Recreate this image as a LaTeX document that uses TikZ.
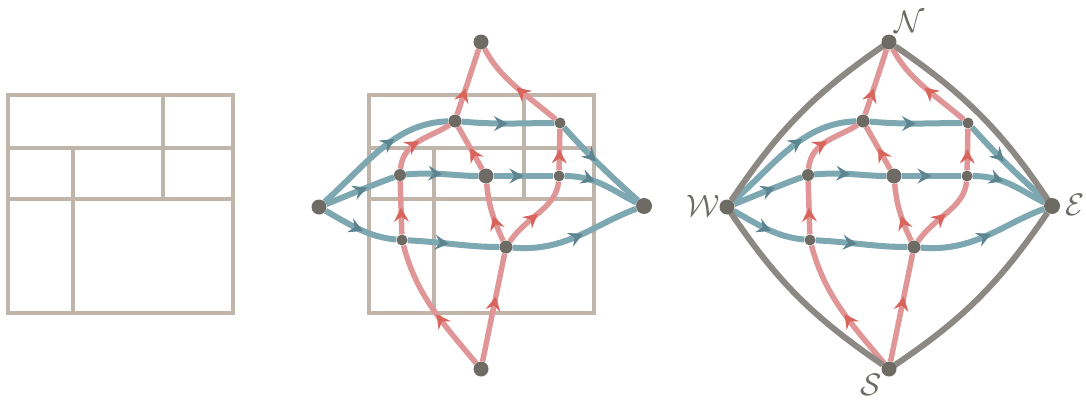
\documentclass[tikz,border=0pt]{standalone}
\usetikzlibrary{arrows.meta,decorations.markings}
\definecolor{gridc}{HTML}{BFB5AA}
\definecolor{bluec}{HTML}{7DA7B1}
\definecolor{bluearr}{HTML}{5D8591}
\definecolor{redc}{HTML}{E09696}
\definecolor{redarr}{HTML}{D9645C}
\definecolor{dotc}{HTML}{6E6A64}
\definecolor{boundc}{HTML}{8C8883}
\pgfdeclarelayer{gridlayer}
\pgfdeclarelayer{edgelayer}
\pgfsetlayers{gridlayer,edgelayer,main}
\tikzset{
  gridline/.style={draw=gridc, line width=3.3pt},
  dotsm/.style={circle, fill=dotc, inner sep=0pt, minimum size=11pt},
  dotmid/.style={circle, fill=dotc, inner sep=0pt, minimum size=13pt},
  dotbig/.style={circle, fill=dotc, inner sep=0pt, minimum size=15pt},
  blueedge/.style={draw=bluec, line width=6pt, postaction={decorate},
    decoration={markings, mark=at position #1 with {\pgfsetlinewidth{1pt}\arrow{Stealth[length=14pt,width=15pt,inset=5pt,color=bluearr]}}}},
  blueedge/.default=0.5,
  rededge/.style={draw=redc, line width=5.5pt, postaction={decorate},
    decoration={markings, mark=at position #1 with {\pgfsetlinewidth{1pt}\arrow{Stealth[length=14pt,width=15pt,inset=5pt,color=redarr]}}}},
  rededge/.default=0.5,
  bound/.style={draw=boundc, line width=6pt},
  lab/.style={text=dotc, font=\Huge, scale=1.25, inner sep=0pt},
}
\newcommand\gridrects{%
  \draw[gridline] (8,95) rectangle (233,313);
  \draw[gridline] (8,148) -- (233,148);
  \draw[gridline] (8,199) -- (233,199);
  \draw[gridline] (163,95) -- (163,199);
  \draw[gridline] (73,148) -- (73,313);
}
\newcommand\flowgraph{%
  \node[dotbig] (W) at (319,207) {};
  \node[dotbig, minimum size=16pt] (E) at (644,206) {};
  \node[dotbig] (N) at (481,42) {};
  \node[dotbig] (S) at (481,369) {};
  \node[dotmid] (a) at (455,121) {};
  \node[dotsm] (b) at (560,123) {};
  \node[dotsm, minimum size=12pt] (c) at (400,175) {};
  \node[dotbig] (d) at (486,176) {};
  \node[dotsm] (e) at (559,176) {};
  \node[dotsm] (f) at (402,240) {};
  \node[dotmid] (g) at (506,247) {};
  \begin{pgfonlayer}{edgelayer}
    \draw[blueedge=0.62] (W) to[out=42,in=182] (a);
    \draw[blueedge] (a) to[out=-5,in=180] (b);
    \draw[blueedge=0.45] (b) to[out=-48,in=138] (E);
    \draw[blueedge=0.6] (W) to[out=22,in=200] (c);
    \draw[blueedge] (c) to[out=5,in=180] (d);
    \draw[blueedge] (d) to[out=0,in=180] (e);
    \draw[blueedge=0.4] (e) to[out=0,in=155] (E);
    \draw[blueedge=0.55] (W) to[out=-30,in=175] (f);
    \draw[blueedge=0.45] (f) to[out=-3,in=180] (g);
    \draw[blueedge=0.55] (g) to[out=-5,in=200] (E);
    \draw[rededge=0.45] (S) to[out=130,in=-75] (f);
    \draw[rededge] (f) -- (c);
    \draw[rededge] (c) to[out=85,in=215] (a);
    \draw[rededge=0.4] (a) -- (N);
    \draw[rededge=0.6] (S) -- (g);
    \draw[rededge=0.45] (g) to[out=115,in=-85] (d);
    \draw[rededge] (d) -- (a);
    \draw[rededge] (g) to[out=55,in=-95] (e);
    \draw[rededge] (e) -- (b);
    \draw[rededge] (b) to[out=140,in=-62] (N);
  \end{pgfonlayer}
}
\begin{document}
\begin{tikzpicture}[x=1pt,y=-1pt]
  \useasboundingbox (0,0) rectangle (1086,399);
  \begin{pgfonlayer}{gridlayer}
    \gridrects
    \begin{scope}[xshift=361pt]
      \gridrects
    \end{scope}
  \end{pgfonlayer}
  \begin{scope}[name prefix=m-]
    \flowgraph
  \end{scope}
  \begin{scope}[xshift=408pt, name prefix=r-]
    \flowgraph
    \begin{pgfonlayer}{edgelayer}
      \draw[bound] (W) to[bend left=11] (N);
      \draw[bound] (N) to[bend left=11] (E);
      \draw[bound] (E) to[bend left=11] (S);
      \draw[bound] (S) to[bend left=11] (W);
    \end{pgfonlayer}
  \end{scope}
  \node[lab] (labN) at (910,22) {$\mathcal{N}$};
  \node[lab] (labW) at (703,206) {$\mathcal{W}$};
  \node[lab] (labE) at (1075,205) {$\mathcal{E}$};
  \node[lab] (labS) at (871,385) {$\mathcal{S}$};
\end{tikzpicture}
\end{document}
